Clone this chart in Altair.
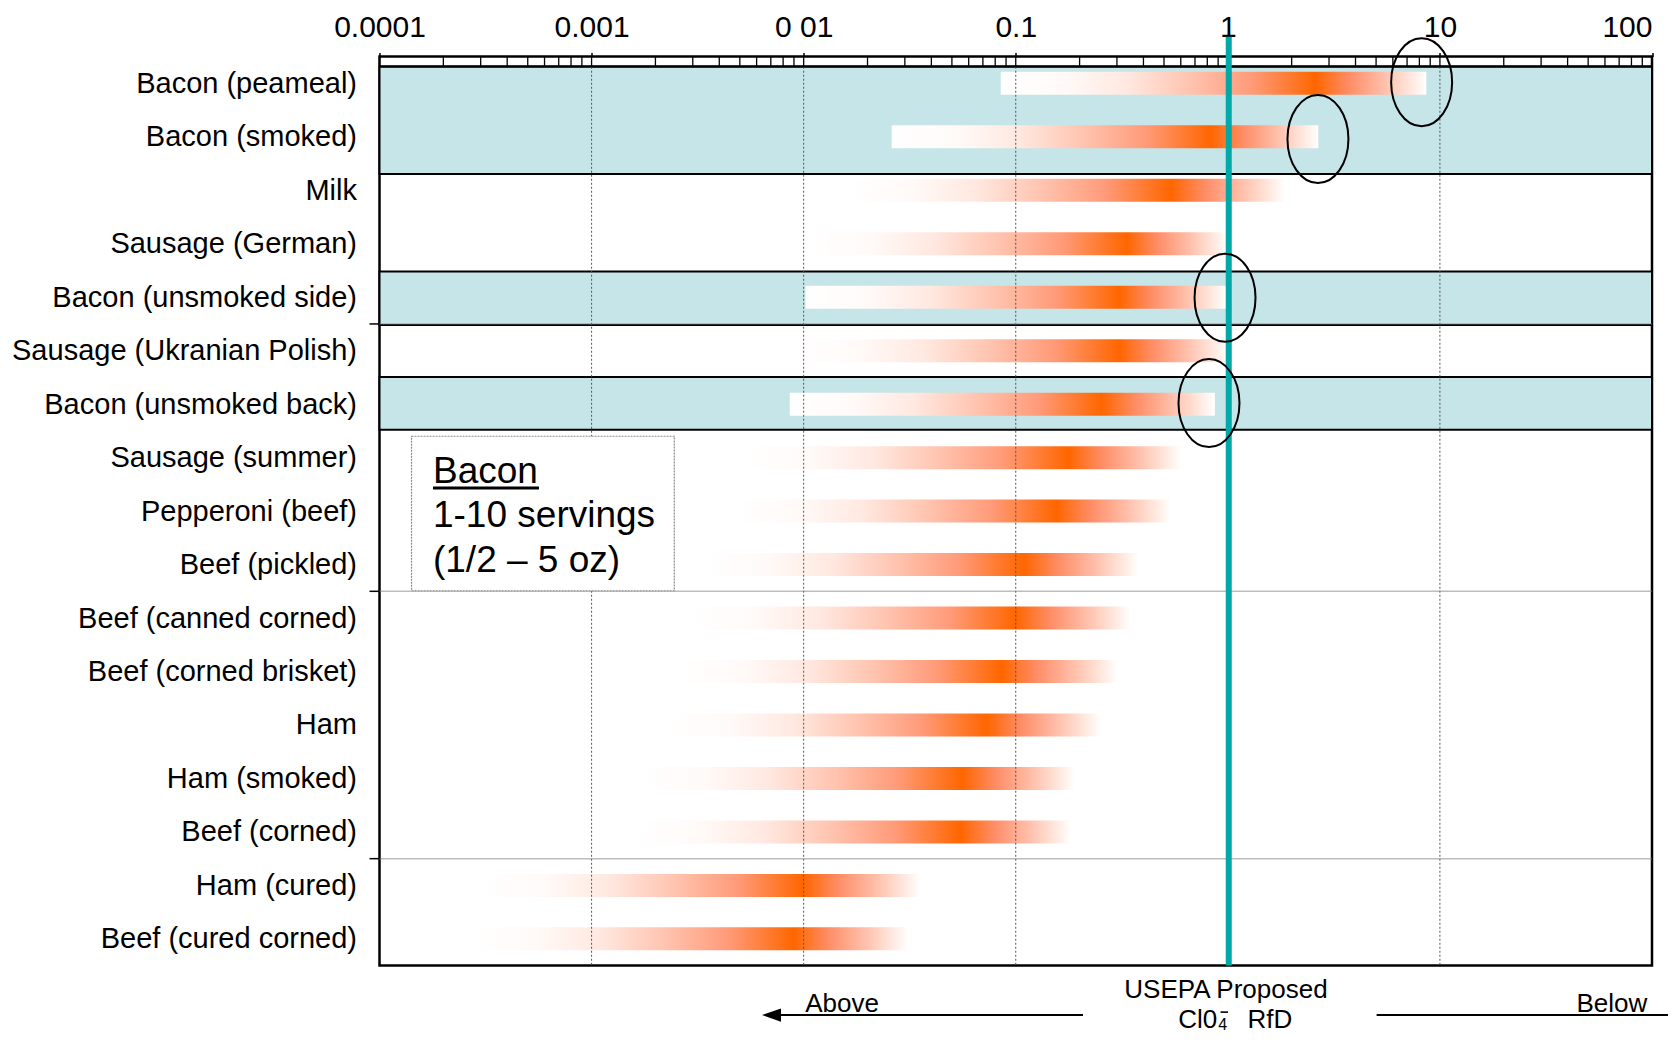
import math
import altair as alt

# ---------------- data ----------------
categories = [
    "Bacon (peameal)", "Bacon (smoked)", "Milk", "Sausage (German)",
    "Bacon (unsmoked side)", "Sausage (Ukranian Polish)", "Bacon (unsmoked back)",
    "Sausage (summer)", "Pepperoni (beef)", "Beef (pickled)", "Beef (canned corned)",
    "Beef (corned brisket)", "Ham", "Ham (smoked)", "Beef (corned)", "Ham (cured)",
    "Beef (cured corned)",
]
low = [0.085, 0.026, 0.0158, 0.0102, 0.0102, 0.0091, 0.0086, 0.00525, 0.00468,
       0.00339, 0.00295, 0.00257, 0.00224, 0.0017, 0.00162, 0.0003, 0.000269]
peak = [2.59, 0.83, 0.54, 0.334, 0.308, 0.308, 0.254, 0.177, 0.156, 0.109, 0.100,
        0.086, 0.073, 0.056, 0.055, 0.0099, 0.0090]
high = [8.63, 2.67, 1.86, 1.0, 0.984, 1.0, 0.869, 0.603, 0.537, 0.38, 0.347, 0.302,
        0.251, 0.19, 0.182, 0.0355, 0.0309]

x_ticks = [0.0001, 0.001, 0.01, 0.1, 1, 10, 100]
x_tick_labels = ["0.0001", "0.001", "0 01", "0.1", "1", "10", "100"]

band_start = [0.19, 4.02, 5.99]
band_end = [2.195, 5.02, 6.98]

rfd_value = 1.01

circle_x = [8.2, 2.66, 0.97, 0.815]
circle_row = [0.48, 1.54, 4.51, 6.48]

legend_lines = ["Bacon", "1-10 servings", "(1/2 \u2013 5 oz)"]

FONT = "Liberation Sans"
N = len(categories)
XMIN, XMAX = 0.0001, 100

# ---------------- helpers ----------------
LEFT = [(0.0, "#FFFFFF"), (0.2, "#FFFAF8"), (0.4, "#FFE8E0"), (0.6, "#FFC4B0"),
        (0.8, "#FF9A78"), (1.0, "#FF6600")]
RIGHT = [(0.3, "#FF8D66"), (0.6, "#FFBCA6"), (0.85, "#FFE6DC"), (1.0, "#FFFFFF")]


def grad(lo, pk, hi):
    p = (math.log10(pk) - math.log10(lo)) / (math.log10(hi) - math.log10(lo))
    stops = [{"offset": t * p, "color": c} for t, c in LEFT]
    stops += [{"offset": p + t * (1 - p), "color": c} for t, c in RIGHT]
    return {"gradient": "linear", "x1": 0, "y1": 0, "x2": 1, "y2": 0, "stops": stops}


xs = alt.Scale(type="log", domain=[XMIN, XMAX], nice=False)
ys = alt.Scale(type="linear", domain=[0, N], reverse=True, nice=False, zero=False)

names_js = "[" + ",".join("'" + c + "'" for c in categories) + "]"
xlab_js = "[" + ",".join("'" + c + "'" for c in x_tick_labels) + "]"

x_axis = alt.Axis(
    orient="top", values=x_ticks, title=None, grid=False, domain=False,
    ticks=True, tickSize=4, tickColor="black", tickWidth=1.5,
    labelExpr=xlab_js + "[round(log(datum.value)/LN10)+4]",
    labelFont=FONT, labelFontSize=30, labelColor="black", labelPadding=16.5,
    labelBaseline="alphabetic", labelAngle=0, labelFlush=False, labelOverlap=False,
    labelLimit=400,
    labelAlign={"condition": {"test": "datum.value >= 100", "value": "right"}, "value": "center"},
)
y_axis = alt.Axis(
    orient="left", values=[i + 0.5 for i in range(N)], title=None, grid=False,
    domain=False, ticks=False, labelExpr=names_js + "[floor(datum.value)]",
    labelFont=FONT, labelFontSize=29, labelColor="black", labelPadding=23,
    labelOverlap=False, labelFlush=False, labelLimit=400,
)


def X(f):
    return alt.X(f, type="quantitative", scale=xs, axis=x_axis)


def Y(f):
    return alt.Y(f, type="quantitative", scale=ys, axis=y_axis)


# ---------------- layers ----------------
bands = alt.Chart(alt.Data(values=[
    {"r0": a, "r1": b, "x0": XMIN, "x1": XMAX} for a, b in zip(band_start, band_end)
])).mark_rect(fill="#C5E5E8", stroke="black", strokeWidth=2).encode(
    x=X("x0"), x2="x1:Q", y=Y("r0"), y2="r1:Q",
)

bar_vals = []
for i in range(N):
    bar_vals.append({"lo": low[i], "hi": high[i],
                     "r0": i + 0.5 - 0.215, "r1": i + 0.5 + 0.215,
                     "grad": grad(low[i], peak[i], high[i])})
bars = alt.Chart(alt.Data(values=bar_vals)).mark_rect().encode(
    x=X("lo"), x2="hi:Q", y=Y("r0"), y2="r1:Q",
    fill=alt.Fill("grad:N", scale=None, legend=None),
)

vgrid = alt.Chart(alt.Data(values=[{"v": v, "r0": 0.19, "r1": N} for v in x_ticks[1:-1]])).mark_rule(
    color="#555555", strokeWidth=1, strokeDash=[2, 2]
).encode(x=X("v"), y=Y("r0"), y2="r1:Q")

hgrid = alt.Chart(alt.Data(values=[{"r": r, "x0": XMIN, "x1": XMAX} for r in [5, 10, 15]])).mark_rule(
    color="#7a7a7a", strokeWidth=1.5, strokeDash=[1, 1]
).encode(x=X("x0"), x2="x1:Q", y=Y("r"))

legend_box = alt.Chart(alt.Data(values=[{"x0": 0.0001416, "x1": 0.002455, "r0": 7.10, "r1": 9.99}])).mark_rect(
    fill="white", stroke="#8a8a8a", strokeWidth=1.2, strokeDash=[2, 1]
).encode(x=X("x0"), x2="x1:Q", y=Y("r0"), y2="r1:Q")

legend_text = alt.Chart(alt.Data(values=[
    {"t": legend_lines[0], "x": 0.0001787, "r": 7.975},
    {"t": legend_lines[1], "x": 0.0001787, "r": 8.80},
    {"t": legend_lines[2], "x": 0.0001787, "r": 9.63},
])).mark_text(align="left", baseline="alphabetic", font=FONT, fontSize=37, color="black").encode(
    x=X("x"), y=Y("r"), text="t:N")

underline = alt.Chart(alt.Data(values=[{"x0": 0.0001787, "x1": 0.000565, "r": 8.07}])).mark_rule(
    color="black", strokeWidth=3
).encode(x=X("x0"), x2="x1:Q", y=Y("r"))

# top ruler
minor = [m * 10 ** e for e in range(-4, 2) for m in range(2, 10)]
ruler_ticks = alt.Chart(alt.Data(values=[{"v": v, "r0": 0, "r1": 0.18} for v in minor + x_ticks])).mark_rule(
    color="black", strokeWidth=1.3
).encode(x=X("v"), y=Y("r0"), y2="r1:Q")
ruler_line = alt.Chart(alt.Data(values=[{"x0": XMIN, "x1": XMAX, "r": 0.18}])).mark_rule(
    color="black", strokeWidth=2
).encode(x=X("x0"), x2="x1:Q", y=Y("r"))

left_ticks = alt.Chart(alt.Data(values=[{"r": r} for r in [5, 10, 15]])).mark_rule(
    color="black", strokeWidth=1.5
).encode(y=Y("r"), x=alt.value(-10), x2=alt.value(0))

rfd = alt.Chart(alt.Data(values=[{"v": rfd_value, "r0": -0.37, "r1": N}])).mark_rule(
    color="#00A8A8", strokeWidth=6
).encode(x=X("v"), y=Y("r0"), y2="r1:Q")

a = 0.693
k = 0.5523
ell = (f"M 0 -1 C {k*a:.4f} -1 {a} {-k} {a} 0 C {a} {k} {k*a:.4f} 1 0 1 "
       f"C {-k*a:.4f} 1 {-a} {k} {-a} 0 C {-a} {-k} {-k*a:.4f} -1 0 -1 Z")
circles = alt.Chart(alt.Data(values=[{"v": v, "r": r} for v, r in zip(circle_x, circle_row)])).mark_point(
    shape=ell, size=7744, filled=False, color="black", strokeWidth=2, opacity=1
).encode(x=X("v"), y=Y("r"))

# bottom annotation
ann_text = alt.Chart(alt.Data(values=[
    {"t": "USEPA Proposed", "x": 0.98, "r": 17.60},
    {"t": "Above", "x": 0.01517, "r": 17.87},
    {"t": "Below", "x": 64.7, "r": 17.87},
])).mark_text(baseline="alphabetic", font=FONT, fontSize=26, color="black").encode(
    x=X("x"), y=Y("r"), text="t:N")

cl_left = alt.Chart(alt.Data(values=[{"t": "Cl0", "x": 0.892, "r": 18.16}])).mark_text(
    align="right", baseline="alphabetic", font=FONT, fontSize=26, color="black"
).encode(x=X("x"), y=Y("r"), text="t:N")
cl_sub = alt.Chart(alt.Data(values=[{"t": "4", "x": 0.902, "r": 18.205}])).mark_text(
    align="left", baseline="alphabetic", font=FONT, fontSize=16, color="black"
).encode(x=X("x"), y=Y("r"), text="t:N")
cl_sup = alt.Chart(alt.Data(values=[{"x0": 0.924, "x1": 1.002, "r": 17.87}])).mark_rule(
    color="black", strokeWidth=1.6
).encode(x=X("x0"), x2="x1:Q", y=Y("r"))
cl_right = alt.Chart(alt.Data(values=[{"t": "RfD", "x": 1.239, "r": 18.16}])).mark_text(
    align="left", baseline="alphabetic", font=FONT, fontSize=26, color="black"
).encode(x=X("x"), y=Y("r"), text="t:N")

arrow_lines = alt.Chart(alt.Data(values=[
    {"x0": 0.00705, "x1": 0.2075, "r": 17.925},
    {"x0": 5.03, "x1": 135.0, "r": 17.925},
])).mark_rule(color="black", strokeWidth=2).encode(x=X("x0"), x2="x1:Q", y=Y("r"))
head_left = alt.Chart(alt.Data(values=[{"x": 0.00705, "r": 17.925}])).mark_point(
    shape="M -1 0 L 1 -0.7 L 1 0.7 Z", size=361, filled=True, color="black", opacity=1
).encode(x=X("x"), y=Y("r"))
head_right = alt.Chart(alt.Data(values=[{"x": 139.3, "r": 17.925}])).mark_point(
    shape="M 1 0 L -1 -0.7 L -1 0.7 Z", size=361, filled=True, color="black", opacity=1
).encode(x=X("x"), y=Y("r"))

chart = alt.layer(
    bands, bars, vgrid, hgrid, legend_box, legend_text, underline,
    ruler_ticks, ruler_line, left_ticks, rfd, circles,
    ann_text, cl_left, cl_sub, cl_sup, cl_right, arrow_lines, head_left, head_right,
).properties(
    width=1272.5, height=909,
    autosize=alt.AutoSizeParams(type="none"),
    padding={"left": 371.5, "top": 48.6, "right": 16, "bottom": 68.4},
    background="white",
).configure_view(stroke="black", strokeWidth=2.5)

chart.save("out.html", embed_options={"renderer": "svg", "actions": False})
